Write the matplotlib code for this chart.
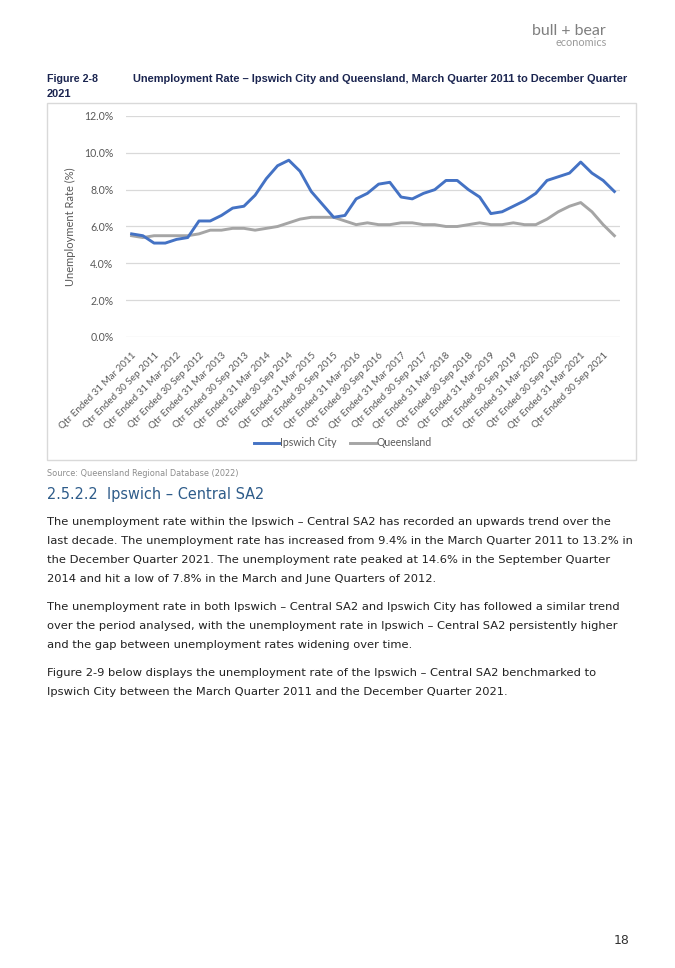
import numpy as np
import matplotlib
matplotlib.use('Agg')
from matplotlib import pyplot as plt
from matplotlib.patches import Rectangle

# Data
quarters = ['Qtr Ended 31 Mar 2011','Qtr Ended 30 Sep 2011','Qtr Ended 31 Mar 2012','Qtr Ended 30 Sep 2012',
	'Qtr Ended 31 Mar 2013','Qtr Ended 30 Sep 2013','Qtr Ended 31 Mar 2014','Qtr Ended 30 Sep 2014',
	'Qtr Ended 31 Mar 2015','Qtr Ended 30 Sep 2015','Qtr Ended 31 Mar 2016','Qtr Ended 30 Sep 2016',
	'Qtr Ended 31 Mar 2017','Qtr Ended 30 Sep 2017','Qtr Ended 31 Mar 2018','Qtr Ended 30 Sep 2018',
	'Qtr Ended 31 Mar 2019','Qtr Ended 30 Sep 2019','Qtr Ended 31 Mar 2020','Qtr Ended 30 Sep 2020',
	'Qtr Ended 31 Mar 2021','Qtr Ended 30 Sep 2021']
n_quarters = 44

ipswich = [5.6,5.5,5.1,5.1,5.3,5.4,6.3,6.3,6.6,7.0,7.1,7.7,8.6,9.3,9.6,9.0,7.9,7.2,6.5,6.6,7.5,7.8,
	8.3,8.4,7.6,7.5,7.8,8.0,8.5,8.5,8.0,7.6,6.7,6.8,7.1,7.4,7.8,8.5,8.7,8.9,9.5,8.9,8.5,7.9]
queensland = [5.5,5.4,5.5,5.5,5.5,5.5,5.6,5.8,5.8,5.9,5.9,5.8,5.9,6.0,6.2,6.4,6.5,6.5,6.5,6.3,6.1,6.2,
	6.1,6.1,6.2,6.2,6.1,6.1,6.0,6.0,6.1,6.2,6.1,6.1,6.2,6.1,6.1,6.4,6.8,7.1,7.3,6.8,6.1,5.5]
yticks = [0,2,4,6,8,10,12]

body = [
	"The unemployment rate within the Ipswich \u2013 Central SA2 has recorded an upwards trend over the",
	"last decade. The unemployment rate has increased from 9.4% in the March Quarter 2011 to 13.2% in",
	"the December Quarter 2021. The unemployment rate peaked at 14.6% in the September Quarter",
	"2014 and hit a low of 7.8% in the March and June Quarters of 2012.",
	"The unemployment rate in both Ipswich \u2013 Central SA2 and Ipswich City has followed a similar trend",
	"over the period analysed, with the unemployment rate in Ipswich \u2013 Central SA2 persistently higher",
	"and the gap between unemployment rates widening over time.",
	"Figure 2-9 below displays the unemployment rate of the Ipswich \u2013 Central SA2 benchmarked to",
	"Ipswich City between the March Quarter 2011 and the December Quarter 2021.",
]
body_y = [522,541,560,579,607,626,645,673,692]

W,H = 675,968
fig = plt.figure(figsize=(W/100,H/100),dpi=100)
fig.patch.set_facecolor('white')
renderer = fig.canvas.get_renderer()

def fx(x): return x/W
def fy(y): return 1-y/H

def fit(x,y,s,width,**kw):
	# place text, then scale font so it spans the given pixel width
	t = fig.text(fx(x),fy(y),s,fontsize=10,**kw)
	w = t.get_window_extent(renderer).width
	t.set_fontsize(10*width/w)
	return t

# Header / logo
fit(532,31,'bull + bear',74,va='center',color='#7f7f7f',family='Lato')
fit(555,42,'economics',51,va='center',color='#9a9a9a',family='Lato')

navy = '#1b2550'
fit(47,79,'Figure 2-8',51,va='center',color=navy,fontweight='bold',family='Liberation Sans')
t = fit(133,79,'Unemployment Rate \u2013 Ipswich City and Queensland, March Quarter 2011 to December Quarter',494,
	va='center',color=navy,fontweight='bold',family='Liberation Sans')
fig.text(fx(47),fy(94),'2021',fontsize=t.get_fontsize(),va='center',color=navy,fontweight='bold',family='Liberation Sans')

# Chart frame
fig.patches.append(Rectangle((fx(47),fy(460)),(636-47)/W,(460-103)/H,transform=fig.transFigure,
	facecolor='none',edgecolor='#d9d9d9',lw=1))

ax = fig.add_axes([fx(126),fy(337),(620-126)/W,(337-116)/H])
x = np.arange(n_quarters)
ax.plot(x,ipswich,color='#4472c4',lw=2.1,label='Ipswich City',zorder=3)
ax.plot(x,queensland,color='#a5a5a5',lw=2.1,label='Queensland',zorder=2)
ax.set_xlim(-0.5,n_quarters-0.5)
ax.set_ylim(0,12)
ax.set_yticks(yticks)
ax.set_yticklabels(['%.1f%%'%v for v in yticks])
ax.set_xticks(np.arange(0,n_quarters,2))
ax.set_xticklabels(quarters,rotation=45,ha='right',rotation_mode='anchor')
ax.grid(axis='y',color='#d9d9d9',lw=0.9)
ax.set_axisbelow(True)
for s in ax.spines.values():
	s.set_visible(False)
ax.tick_params(axis='both',length=0,labelcolor='#595959')
ax.tick_params(axis='x',pad=10,labelsize=7.1)
ax.tick_params(axis='y',pad=9,labelsize=7.6)
for lab in ax.get_xticklabels()+ax.get_yticklabels():
	lab.set_family('Lato')
ax.set_ylabel('Unemployment Rate (%)',fontsize=8,color='#595959',family='Lato',labelpad=6)
ax.legend(loc='center',bbox_to_anchor=(fx(343),fy(443)),bbox_transform=fig.transFigure,ncol=2,frameon=False,
	prop={'family':'Lato','size':7.6},labelcolor='#595959',handlelength=2.4,handletextpad=0.1,columnspacing=1.3)

# Text below chart
fit(47,474,'Source: Queensland Regional Database (2022)',190,va='center',color='#8c8c8c')
fit(47,494,'2.5.2.2  Ipswich \u2013 Central SA2',216,va='center',color='#2e5c8a')

t = fit(47,body_y[0],body[0],561,va='center',color='#222222')
size = t.get_fontsize()
for s,y in zip(body[1:],body_y[1:]):
	fig.text(fx(47),fy(y),s,fontsize=size,va='center',color='#222222')

fig.text(fx(630),fy(941),'18',fontsize=9,ha='right',va='center',color='#333333')

fig.savefig('out.png',dpi=100,facecolor='white')
